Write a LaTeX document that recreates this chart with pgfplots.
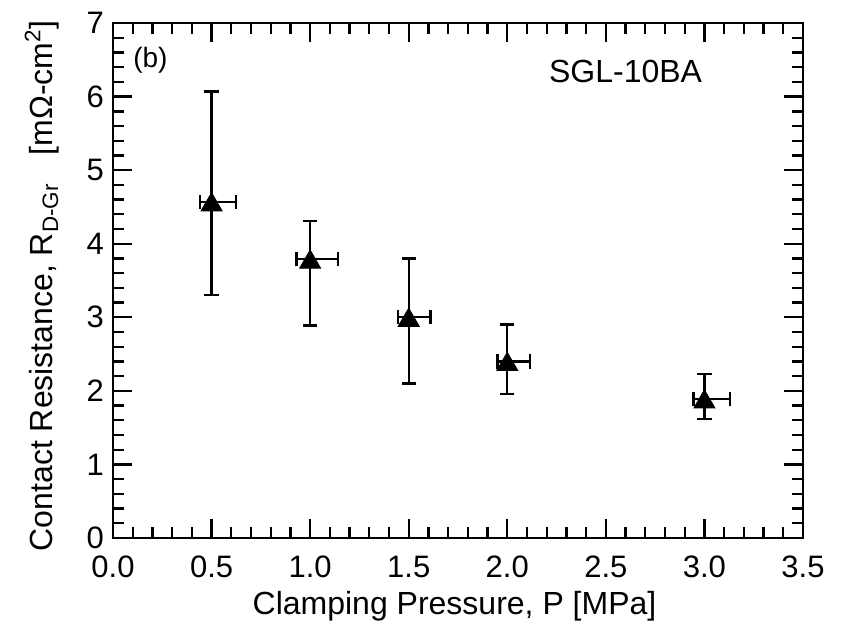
\documentclass[border=0pt]{standalone}
\usepackage{pgfplots}
\pgfplotsset{compat=1.18}
\usepackage{pgfplotstable}
\usepackage{fontspec}
\setmainfont{Liberation Sans}

\pgfplotstableread{
x    y     xm    xp    ym    yp
0.5  4.57  0.06  0.125 1.27  1.50
1.0  3.79  0.07  0.14  0.90  0.52
1.5  3.00  0.055 0.11  0.90  0.80
2.0  2.40  0.05  0.115 0.44  0.50
3.0  1.89  0.056 0.13  0.27  0.34
}\datatable

\begin{document}
\begin{tikzpicture}
\begin{axis}[
  scale only axis,
  width=345pt, height=257.5pt,
  at={(0,0)}, anchor=south west,
  xmin=0, xmax=3.5, ymin=0, ymax=7,
  xtick distance=0.5, ytick distance=1,
  minor x tick num=4, minor y tick num=4,
  tick align=inside,
  xtick pos=both, ytick pos=both,
  xticklabel pos=bottom, yticklabel pos=left,
  major tick length=9.5pt, minor tick length=5.5pt,
  every tick/.style={black, line width=1.2pt},
  axis line style={line width=1.4pt},
  /pgf/number format/assume math mode=true,
  xticklabel style={/pgf/number format/fixed, /pgf/number format/fixed zerofill, /pgf/number format/precision=1, yshift=-5.5pt},
  ticklabel style={font=\fontsize{15.5}{18}\selectfont},
  yticklabel style={xshift=-1pt},
  xlabel={Clamping Pressure, P [MPa]},
  ylabel={Contact Resistance, R\textsubscript{D-Gr}\hspace{0.6em} [mΩ-cm\textsuperscript{2}]},
  label style={font=\fontsize{16}{19}\selectfont},
  xlabel style={at={(axis description cs:0.495,-0.1495)}, anchor=base},
  ylabel style={at={(axis description cs:-0.087,0.49)}, anchor=base},
  clip=false,
]
\addplot[
  black, line width=1.2pt, only marks,
  mark=triangle*, mark size=6pt, mark options={yshift=-1.5pt, line width=0.5pt},
  error bars/.cd,
    x dir=both, x explicit,
    y dir=both, y explicit,
    error bar style={line width=1.2pt, black},
    error mark options={rotate=90, mark size=3.6pt, line width=1.2pt, black},
] table[x=x, y=y, x error plus=xp, x error minus=xm, y error plus=yp, y error minus=ym] {\datatable};
\node[font=\fontsize{14}{17}\selectfont] at (axis cs:0.19,6.5) {(b)};
\node[font=\fontsize{16}{19}\selectfont] at (axis cs:2.60,6.34) {SGL-10BA};
\end{axis}
\pgfresetboundingbox
\useasboundingbox (-56.5pt,-45pt) rectangle (364.5pt,269pt);
\end{tikzpicture}
\end{document}
